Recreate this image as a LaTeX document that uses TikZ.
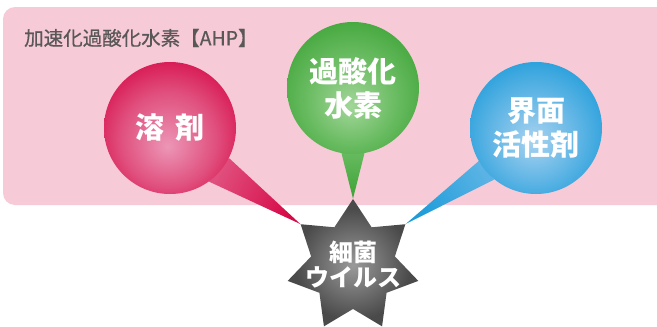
\documentclass[tikz,border=0pt]{standalone}
\usepackage{fontspec}
\setmainfont{Noto Sans CJK JP}
\newfontfamily\titlefont[FakeBold=0.6]{Noto Sans CJK JP}
\usetikzlibrary{shapes.geometric}
\definecolor{pinkbg}{HTML}{F6CAD6}
\definecolor{redE}{HTML}{D60A48}
\definecolor{redM}{HTML}{E0507E}
\definecolor{redC}{HTML}{EC96B6}
\definecolor{greenE}{HTML}{3DA336}
\definecolor{greenM}{HTML}{66BA5E}
\definecolor{greenC}{HTML}{A2D699}
\definecolor{blueE}{HTML}{1E9CD9}
\definecolor{blueM}{HTML}{5AB3E4}
\definecolor{blueC}{HTML}{A8D2F0}
\definecolor{starE}{HTML}{4A4A4A}
\definecolor{starC}{HTML}{9A9A9A}
\definecolor{labelgray}{HTML}{595757}
\pgfdeclareradialshading{redball}{\pgfpoint{-1bp}{-7bp}}{color(0bp)=(redC); color(18bp)=(redM); color(32bp)=(redE); color(50bp)=(redE)}
\pgfdeclareradialshading{greenball}{\pgfpoint{-1bp}{-7bp}}{color(0bp)=(greenC); color(18bp)=(greenM); color(32bp)=(greenE); color(50bp)=(greenE)}
\pgfdeclareradialshading{blueball}{\pgfpoint{-1bp}{-5bp}}{color(0bp)=(blueC); color(18bp)=(blueM); color(31bp)=(blueE); color(50bp)=(blueE)}
\pgfdeclareradialshading{starball}{\pgfpoint{0bp}{-1bp}}{color(0bp)=(starC); color(22bp)=(starE); color(50bp)=(starE)}
\pgfdeclarelayer{back}
\pgfdeclarelayer{tails}
\pgfsetlayers{back,tails,main}
\begin{document}
\begin{tikzpicture}[x=1pt,y=-1pt,
  ball/.style={circle, minimum size=132pt, inner sep=0pt, text=white, align=center,
    font=\bfseries\fontsize{29}{34}\selectfont},
  virusstar/.style={star, star points=7, star point ratio=1.56, minimum size=134pt, inner sep=0pt},
  virustext/.style={text=white, align=center, inner sep=0pt, font=\bfseries\fontsize{24}{25}\selectfont}]
\useasboundingbox (0,0) rectangle (657,327);
\begin{pgfonlayer}{back}
\fill[pinkbg, rounded corners=12pt] (3,7) rectangle (680,205);
\end{pgfonlayer}
\node[anchor=west, text=labelgray, inner sep=0pt, font=\titlefont\fontsize{19.5}{20}\selectfont] (title) at (24,38) {加速化過酸化水素【AHP】};
\node[ball, shading=redball] (solvent) at (170,128) {溶\hspace{12pt}剤};
\node[ball, shading=greenball] (hp) at (353,88) {過酸化\\水素};
\node[ball, shading=blueball] (surf) at (536,128) {界面\\活性剤};
\node[virusstar, shading=starball] (virus) at (353,266) {};
\node[virustext] (vtext) at (353,265) {細菌\\ウイルス};
\begin{pgfonlayer}{tails}
\shade[top color=redM, bottom color=redE, shading angle=63]
  (solvent.-27) -- (virus.outer point 2) -- (solvent.-54) -- cycle;
\shade[top color=greenM, bottom color=greenE]
  (hp.-100) -- (virus.outer point 1) -- (hp.-80) -- cycle;
\shade[top color=blueM, bottom color=blueE, shading angle=-57]
  (surf.-150) -- (virus.outer point 7) -- (surf.-129) -- cycle;
\end{pgfonlayer}
\end{tikzpicture}
\end{document}
